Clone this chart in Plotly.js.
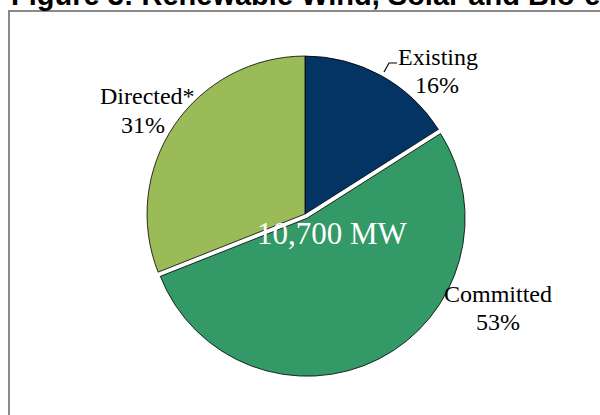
<!DOCTYPE html>
<html>
<head>
<meta charset="utf-8">
<script src="https://cdn.plot.ly/plotly-3.0.1.min.js"></script>
<style>
  html, body { margin: 0; padding: 0; background: #fff; }
  #chart { width: 600px; height: 415px; }
</style>
</head>
<body>
<div id="chart"></div>
<script>
// Parts of the 10,700 MW total (share, %)
const categories = ['Existing', 'Committed', 'Directed*'];
const shares = [16, 53, 31];
const sliceColors = ['#033463', '#339966', '#9BBB59'];
const totalLabel = '10,700 MW';
const chartTitle = 'Figure 3: Renewable Wind, Solar and Bio-energy Capacity';

const W = 600, H = 415;
const px = x => x / W;            // pixel -> paper x
const py = y => 1 - y / H;        // pixel (from top) -> paper y

// label placement (pixel centres) for name line and percent line
const labelPos = [
    {x: 438, yName: 57, xPct: 437, yPct: 85},
    {x: 498, yName: 294, xPct: 498, yPct: 322},
    {x: 147, yName: 96, xPct: 143, yPct: 125}
];

const serif = 'Liberation Serif, Times New Roman, serif';

const annotations = [];
categories.forEach((c, i) => {
    const p = labelPos[i];
    annotations.push({
        text: c, x: px(p.x), y: py(p.yName), xref: 'paper', yref: 'paper',
        xanchor: 'center', yanchor: 'middle', showarrow: false,
        font: {family: serif, size: 24, color: '#000'}
    });
    annotations.push({
        text: shares[i] + '%', x: px(p.xPct), y: py(p.yPct), xref: 'paper', yref: 'paper',
        xanchor: 'center', yanchor: 'middle', showarrow: false,
        font: {family: serif, size: 24, color: '#000'}
    });
});

// total in the middle of the pie
annotations.push({
    text: totalLabel, x: px(332), y: py(233), xref: 'paper', yref: 'paper',
    xanchor: 'center', yanchor: 'middle', showarrow: false,
    font: {family: serif, size: 31, color: '#fff'}
});

// cropped figure title at the very top (the page crop cuts it off)
annotations.push({
    text: '<b>' + chartTitle + '</b>', x: px(9), y: py(-5), xref: 'paper', yref: 'paper',
    xanchor: 'left', yanchor: 'middle', showarrow: false,
    font: {family: 'Liberation Sans, Arial, sans-serif', size: 29, color: '#000'}
});

Plotly.newPlot('chart', [{
    type: 'pie',
    labels: categories,
    values: shares,
    sort: false,
    direction: 'clockwise',
    rotation: 0,
    pull: [0, 0.03, 0],
    textinfo: 'none',
    hoverinfo: 'label+percent',
    marker: {colors: sliceColors, line: {color: '#000', width: 0.8}},
    domain: {x: [px(142.3), px(467.7)], y: [py(376.7), py(51.3)]},
    showlegend: false
}], {
    width: W,
    height: H,
    margin: {l: 0, r: 0, t: 0, b: 0},
    paper_bgcolor: '#fff',
    annotations: annotations,
    shapes: [
        // chart frame
        {type: 'rect', xref: 'paper', yref: 'paper',
         x0: px(9), x1: 1.2, y0: -0.2, y1: py(11),
         line: {color: '#8a8a8a', width: 2}},
        // leader line for the Existing label
        {type: 'path', xref: 'paper', yref: 'paper',
         path: 'M ' + px(384) + ',' + py(72) + ' L ' + px(389) + ',' + py(63) + ' L ' + px(397) + ',' + py(63),
         line: {color: '#000', width: 1.2}}
    ]
}, {displayModeBar: false, staticPlot: true});
</script>
</body>
</html>
